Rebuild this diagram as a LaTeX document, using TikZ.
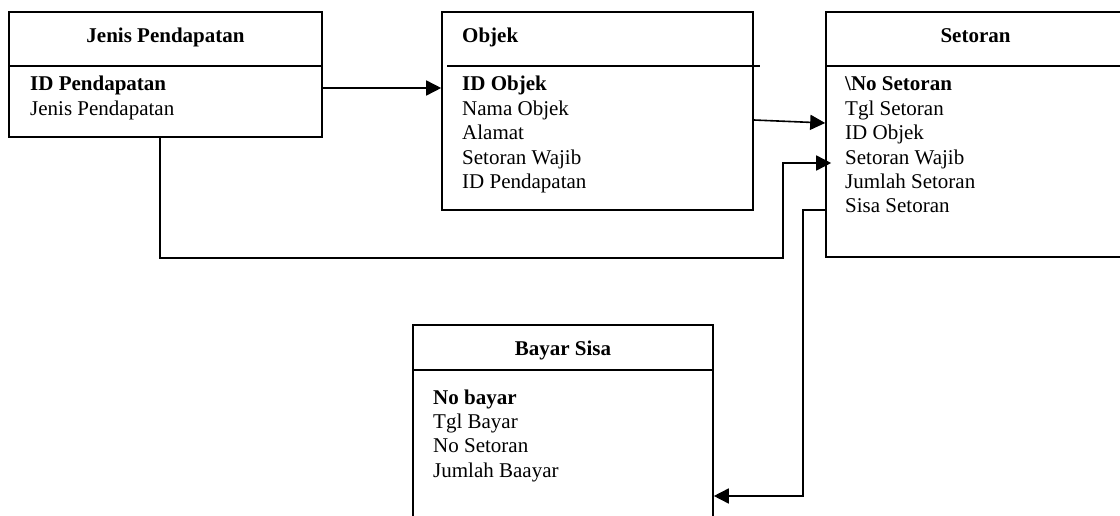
\documentclass[tikz,border=0pt]{standalone}
\usepackage{fontspec}
\setmainfont{Liberation Serif}
\usetikzlibrary{arrows.meta}

\begin{document}
\begin{tikzpicture}[x=1pt,y=-1pt]
    \fontsize{21}{24}\selectfont
    \def\dy{24.4}
    \clip (0,0) rectangle (1120,516);

    \tikzstyle{ent}=[draw=black,line width=1.6pt,inner sep=0pt]
    \tikzstyle{head}=[font=\bfseries,anchor=base,inner sep=0pt]
    \tikzstyle{key}=[font=\bfseries,anchor=base west,inner sep=0pt]
    \tikzstyle{attr}=[anchor=base west,inner sep=0pt]
    \tikzstyle{sep}=[draw=black,line width=1.6pt]

    % jenis pendapatan
    \def\ox{30}
    \node[ent,minimum width=313pt,minimum height=125pt] (jp) at (165.5,74.5) {};
    \node[head] (jph) at (165.5,43) {Jenis Pendapatan};
    \node[key]  (jp1) at (\ox,91) {ID Pendapatan};
    \node[attr] (jp2) at (\ox,91+1*\dy) {Jenis Pendapatan};
    \draw[sep] (jp.west |- 0,66) -- (jp.east |- 0,66);

    % objek
    \def\ox{462}
    \node[ent,minimum width=311pt,minimum height=198pt] (obj) at (597.5,111) {};
    \node[head,anchor=base west] (objh) at (\ox,43) {Objek};
    \node[key]  (obj1) at (\ox,91) {ID Objek};
    \node[attr] (obj2) at (\ox,91+1*\dy) {Nama Objek};
    \node[attr] (obj3) at (\ox,91+2*\dy) {Alamat};
    \node[attr] (obj4) at (\ox,91+3*\dy) {Setoran Wajib};
    \node[attr] (obj5) at (\ox,91+4*\dy) {ID Pendapatan};
    \draw[sep] (447,66) -- (760,66);

    % setoran
    \def\ox{845}
    \node[ent,minimum width=299pt,minimum height=245pt] (set) at (975.5,134.5) {};
    \node[head] (seth) at (975.5,43) {Setoran};
    \node[key]  (set1) at (\ox,91) {\textbackslash No Setoran};
    \node[attr] (set2) at (\ox,91+1*\dy) {Tgl Setoran};
    \node[attr] (set3) at (\ox,91+2*\dy) {ID Objek};
    \node[attr] (set4) at (\ox,91+3*\dy) {Setoran Wajib};
    \node[attr] (set5) at (\ox,91+4*\dy) {Jumlah Setoran};
    \node[attr] (set6) at (\ox,91+5*\dy) {Sisa Setoran};
    \draw[sep] (set.west |- 0,66) -- (set.east |- 0,66);

    % bayar sisa
    \def\ox{433}
    \node[ent,minimum width=300pt,minimum height=230pt] (bys) at (563,440) {};
    \node[head] (bysh) at (563,355) {Bayar Sisa};
    \node[key]  (bys1) at (\ox,404) {No bayar};
    \node[attr] (bys2) at (\ox,404+1*\dy) {Tgl Bayar};
    \node[attr] (bys3) at (\ox,404+2*\dy) {No Setoran};
    \node[attr] (bys4) at (\ox,404+3*\dy) {Jumlah Baayar};
    \draw[sep] (bys.west |- 0,370) -- (bys.east |- 0,370);

    \tikzstyle{fwd}=[draw=black,line width=1.6pt,-{Triangle[length=15pt,width=15pt]}]

    \draw [fwd] ([yshift=-13.5pt]jp.east) -- ([yshift=23pt]obj.west);
    \draw [fwd] ([yshift=-9pt]obj.east) -- ([yshift=11.5pt]set.west);
    \draw [fwd] ([xshift=-5.5pt]jp.south) |- (783,258) |- ([xshift=6pt,yshift=-28.5pt]set.west);
    \draw [fwd] ([yshift=-75.5pt]set.west) -- ++(-22,0) |- ([yshift=-56pt]bys.east);

\end{tikzpicture}
\end{document}
